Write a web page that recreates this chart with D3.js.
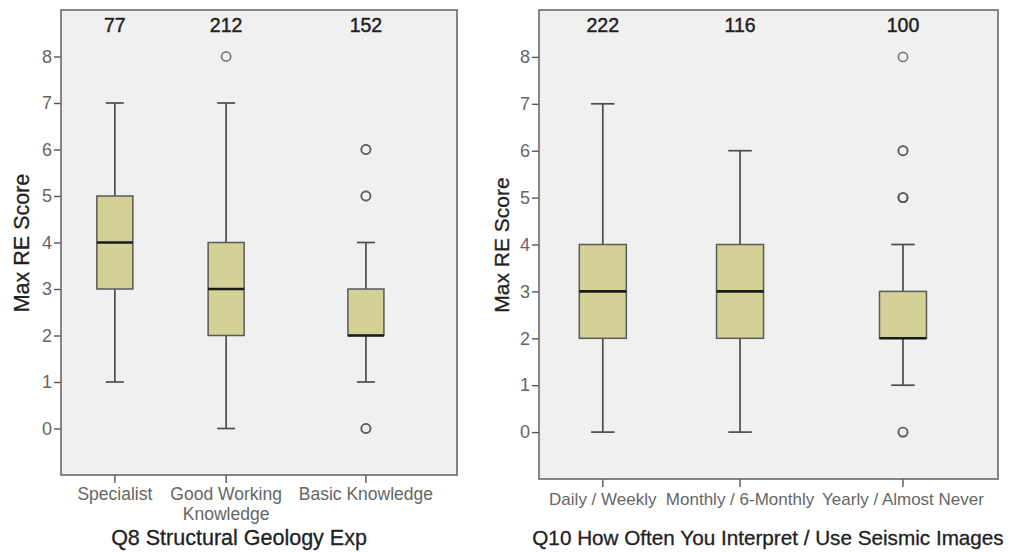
<!DOCTYPE html>
<html>
<head>
<meta charset="utf-8">
<script src="https://cdn.jsdelivr.net/npm/d3@7"></script>
<style>
  html, body { margin: 0; padding: 0; background: #ffffff; }
  svg { display: block; font-family: "Liberation Sans", Arial, sans-serif; }
</style>
</head>
<body>
<svg id="chart" width="1018" height="552"></svg>
<script>
// Q8: structural geology experience
const q8Categories = ["Specialist", "Good Working Knowledge", "Basic Knowledge"];
const q8TickLabels = [["Specialist"], ["Good Working", "Knowledge"], ["Basic Knowledge"]];
const q8Counts = [77, 212, 152];
const q8Min = [1, 0, 1];
const q8Q1 = [3, 2, 2];
const q8Median = [4, 3, 2];
const q8Q3 = [5, 4, 3];
const q8Max = [7, 7, 4];
const q8Outliers = [[], [8], [6, 6, 5, 5, 0, 0]];

// Q10: how often seismic images are interpreted / used
const q10Categories = ["Daily / Weekly", "Monthly / 6-Monthly", "Yearly / Almost Never"];
const q10TickLabels = [["Daily / Weekly"], ["Monthly / 6-Monthly"], ["Yearly / Almost Never"]];
const q10Counts = [222, 116, 100];
const q10Min = [0, 0, 1];
const q10Q1 = [2, 2, 2];
const q10Median = [3, 3, 2];
const q10Q3 = [4, 4, 3];
const q10Max = [7, 6, 4];
const q10Outliers = [[], [], [8, 6, 6, 5, 5, 5, 0, 0]];

const yTicks = [0, 1, 2, 3, 4, 5, 6, 7, 8];
const yTitle = "Max RE Score";

const svg = d3.select("#chart");

function drawPanel(p) {
  const g = svg.append("g");
  const x01 = d3.scaleLinear().domain([0, 1]).range([p.left, p.right]);
  const xPos = d3.scaleOrdinal().domain(p.categories).range(p.slots);
  const x = c => x01(xPos(c));
  const y = d3.scaleLinear().domain([-1, 9]).range([p.bottom, p.top]);

  const rows = p.categories.map((c, i) => ({
    cat: c, lines: p.tickLabels[i], n: p.counts[i],
    min: p.min[i], q1: p.q1[i], med: p.median[i], q3: p.q3[i], max: p.max[i],
    out: p.outliers[i]
  }));

  // plot area
  g.append("rect")
    .attr("x", p.left).attr("y", p.top)
    .attr("width", p.right - p.left).attr("height", p.bottom - p.top)
    .attr("fill", "#eff0ef");

  // y axis
  const yAxis = g.append("g")
    .attr("transform", `translate(${p.left},0)`)
    .call(d3.axisLeft(y).tickValues(yTicks).tickFormat(d3.format("d")).tickSize(7).tickPadding(2));
  yAxis.select(".domain").remove();
  yAxis.selectAll(".tick line").attr("stroke", "#555").attr("stroke-width", 1.4);
  yAxis.selectAll(".tick text")
    .attr("fill", "#666").style("font-size", "18px")
    .style("font-family", "'Liberation Sans', Arial, sans-serif");

  // x axis ticks and category labels
  const xAxisG = g.append("g").attr("transform", `translate(0,${p.bottom})`);
  xAxisG.selectAll("line").data(rows).join("line")
    .attr("x1", d => x(d.cat)).attr("x2", d => x(d.cat))
    .attr("y1", 0).attr("y2", 8)
    .attr("stroke", "#555").attr("stroke-width", 1.4);
  const xt = xAxisG.selectAll("text").data(rows).join("text")
    .attr("x", d => x(d.cat))
    .attr("y", p.labelY - p.bottom)
    .attr("text-anchor", "middle")
    .attr("fill", "#666")
    .style("font-size", p.labelSize + "px");
  xt.selectAll("tspan").data(d => d.lines.map(l => ({ l, x: x(d.cat) }))).join("tspan")
    .attr("x", d => d.x)
    .attr("dy", (d, i) => i === 0 ? 0 : 19.5)
    .text(d => d.l);

  // whiskers
  const bw = p.boxWidth;
  const bx = g.append("g");
  bx.selectAll("line.whisker").data(rows).join("line")
    .attr("class", "whisker")
    .attr("x1", d => x(d.cat)).attr("x2", d => x(d.cat))
    .attr("y1", d => y(d.min)).attr("y2", d => y(d.max))
    .attr("stroke", "#4c4c4c").attr("stroke-width", 1.7);
  ["min", "max"].forEach(k => {
    bx.selectAll("line.cap-" + k).data(rows).join("line")
      .attr("class", "cap-" + k)
      .attr("x1", d => x(d.cat) - bw / 4).attr("x2", d => x(d.cat) + bw / 4)
      .attr("y1", d => y(d[k])).attr("y2", d => y(d[k]))
      .attr("stroke", "#4c4c4c").attr("stroke-width", 1.7);
  });

  // boxes
  bx.selectAll("rect.box").data(rows).join("rect")
    .attr("class", "box")
    .attr("x", d => x(d.cat) - bw / 2)
    .attr("y", d => y(d.q3))
    .attr("width", bw)
    .attr("height", d => y(d.q1) - y(d.q3))
    .attr("fill", "#d3d196")
    .attr("stroke", "#5a5a5a").attr("stroke-width", 1.5);

  // medians
  bx.selectAll("line.median").data(rows).join("line")
    .attr("class", "median")
    .attr("x1", d => x(d.cat) - bw / 2).attr("x2", d => x(d.cat) + bw / 2)
    .attr("y1", d => y(d.med)).attr("y2", d => y(d.med))
    .attr("stroke", "#1a1a1a").attr("stroke-width", 2.6);

  // outliers (overlapping cases darken the ring)
  const pts = rows.flatMap(d => d.out.map(v => ({ cat: d.cat, v })));
  bx.selectAll("circle.out").data(pts).join("circle")
    .attr("class", "out")
    .attr("cx", d => x(d.cat)).attr("cy", d => y(d.v))
    .attr("r", 4.6)
    .attr("fill", "none")
    .attr("stroke", "#555").attr("stroke-opacity", 0.75).attr("stroke-width", 1.7);

  // counts
  g.selectAll("text.count").data(rows).join("text")
    .attr("class", "count")
    .attr("x", d => x(d.cat)).attr("y", p.top + 22)
    .attr("text-anchor", "middle")
    .attr("fill", "#222")
    .attr("stroke", "#222").attr("stroke-width", 0.45)
    .style("font-size", "19.5px")
    .text(d => d.n);

  // frame
  g.append("rect")
    .attr("x", p.left).attr("y", p.top)
    .attr("width", p.right - p.left).attr("height", p.bottom - p.top)
    .attr("fill", "none").attr("stroke", "#6a6a6a").attr("stroke-width", 1.6);

  // axis titles
  g.append("text")
    .attr("transform", `translate(${p.yTitleX},${p.yTitleY}) rotate(-90)`)
    .attr("text-anchor", "middle")
    .attr("fill", "#222")
    .attr("stroke", "#222").attr("stroke-width", 0.3)
    .style("font-size", p.yTitleSize + "px")
    .text(yTitle);
  g.append("text")
    .attr("x", p.titleX).attr("y", 545)
    .attr("text-anchor", "middle")
    .attr("fill", "#222")
    .attr("stroke", "#222").attr("stroke-width", 0.3)
    .style("font-size", p.titleSize + "px")
    .text(p.title);
}

drawPanel({
  categories: q8Categories, tickLabels: q8TickLabels, counts: q8Counts,
  min: q8Min, q1: q8Q1, median: q8Median, q3: q8Q3, max: q8Max, outliers: q8Outliers,
  title: "Q8 Structural Geology Exp",
  left: 61, right: 457, top: 10, bottom: 475,
  slots: [0.136, 0.417, 0.770], boxWidth: 36,
  labelY: 500, labelSize: 17.5, yTitleX: 29, yTitleY: 243, yTitleSize: 21.5,
  titleX: 239, titleSize: 21.5
});

drawPanel({
  categories: q10Categories, tickLabels: q10TickLabels, counts: q10Counts,
  min: q10Min, q1: q10Q1, median: q10Median, q3: q10Q3, max: q10Max, outliers: q10Outliers,
  title: "Q10 How Often You Interpret / Use Seismic Images",
  left: 539, right: 998, top: 10, bottom: 479,
  slots: [0.139, 0.438, 0.793], boxWidth: 47,
  labelY: 505, labelSize: 17, yTitleX: 509, yTitleY: 245, yTitleSize: 21,
  titleX: 768, titleSize: 20.7
});
</script>
</body>
</html>
